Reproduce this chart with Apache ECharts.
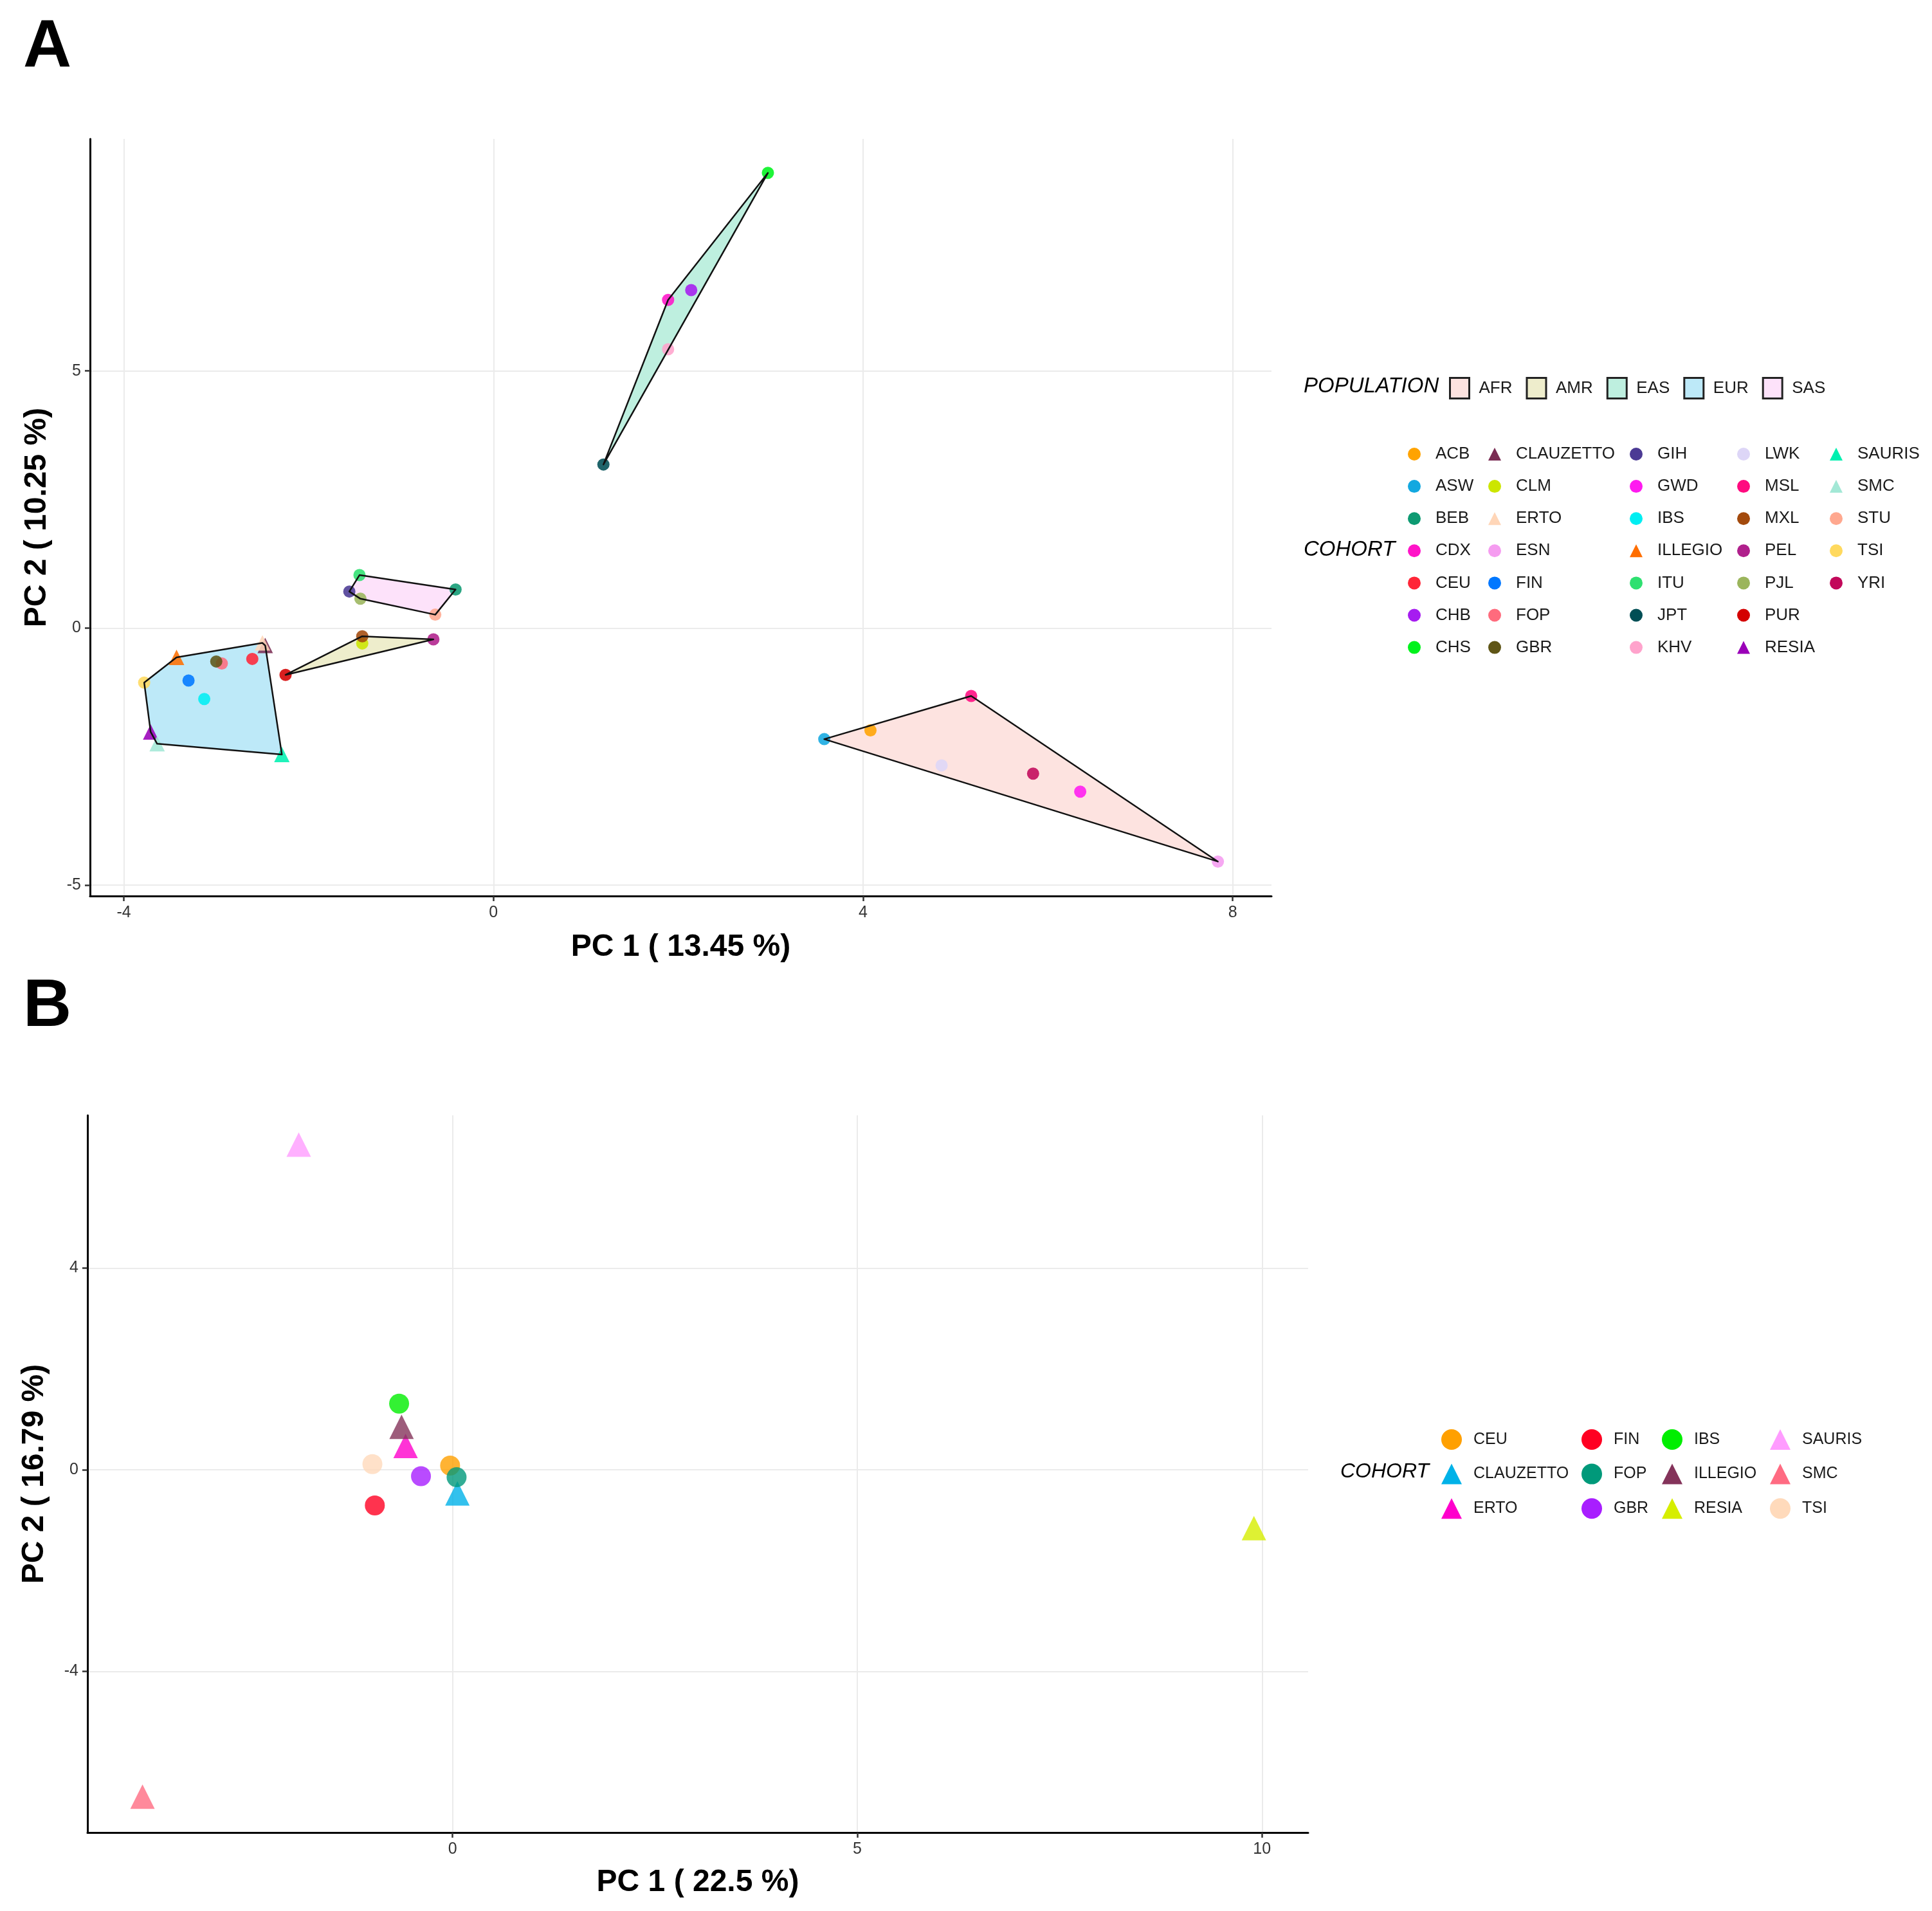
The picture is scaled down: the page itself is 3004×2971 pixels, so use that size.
<!DOCTYPE html>
<html>
<head>
<meta charset="utf-8">
<script src="https://cdn.jsdelivr.net/npm/echarts@6/dist/echarts.min.js"></script>
<style>
  html, body { margin: 0; padding: 0; background: #fff; }
  #show { width: 3004px; height: 2971px; }
</style>
</head>
<body>
<div id="show"></div>
<script>
var myChart = echarts.init(document.getElementById("show"));

// ---- panel A : 1000 Genomes + isolates ----
var cohortsA = ['ACB', 'ASW', 'BEB', 'CDX', 'CEU', 'CHB', 'CHS', 'CLAUZETTO', 'CLM', 'ERTO', 'ESN',
    'FIN', 'FOP', 'GBR', 'GIH', 'GWD', 'IBS', 'ILLEGIO', 'ITU', 'JPT', 'KHV', 'LWK', 'MSL', 'MXL',
    'PEL', 'PJL', 'PUR', 'RESIA', 'SAURIS', 'SMC', 'STU', 'TSI', 'YRI'];
var pc1A = [4.08, 3.58, -0.41, 1.89, -2.61, 2.14, 2.97, -2.47, -1.42, -2.50, 7.84,
    -3.30, -2.94, -3.00, -1.56, 6.35, -3.13, -3.43, -1.45, 1.19, 1.89, 4.85, 5.17, -1.42,
    -0.65, -1.44, -2.25, -3.71, -2.29, -3.64, -0.63, -3.78, 5.84];
var pc2A = [-1.99, -2.16, 0.75, 6.38, -0.60, 6.57, 8.85, -0.34, -0.30, -0.29, -4.54,
    -1.02, -0.69, -0.65, 0.71, -3.18, -1.38, -0.57, 1.03, 3.18, 5.42, -2.67, -1.32, -0.16,
    -0.22, 0.57, -0.91, -2.02, -2.46, -2.25, 0.26, -1.06, -2.83];
var popA = ['AFR', 'AFR', 'SAS', 'EAS', 'EUR', 'EAS', 'EAS', 'EUR', 'AMR', 'EUR', 'AFR',
    'EUR', 'EUR', 'EUR', 'SAS', 'AFR', 'EUR', 'EUR', 'SAS', 'EAS', 'EAS', 'AFR', 'AFR', 'AMR',
    'AMR', 'SAS', 'AMR', 'EUR', 'EUR', 'EUR', 'SAS', 'EUR', 'AFR'];
var populations = ['AFR', 'AMR', 'EAS', 'EUR', 'SAS'];
var xTicksA = [-4, 0, 4, 8];
var yTicksA = [-5, 0, 5];

// ---- panel B : isolates + EUR ----
var cohortsB = ['CEU', 'CLAUZETTO', 'ERTO', 'FIN', 'FOP', 'GBR', 'IBS', 'ILLEGIO', 'RESIA', 'SAURIS', 'SMC', 'TSI'];
var pc1B = [-0.03, 0.06, -0.58, -0.96, 0.05, -0.39, -0.66, -0.63, 9.90, -1.90, -3.83, -0.99];
var pc2B = [0.08, -0.47, 0.47, -0.71, -0.15, -0.13, 1.31, 0.85, -1.16, 6.45, -6.49, 0.11];
var xTicksB = [0, 5, 10];
var yTicksB = [-4, 0, 4];

var isolates = ['CLAUZETTO', 'ERTO', 'ILLEGIO', 'RESIA', 'SAURIS', 'SMC'];

// colours
var colA = {
    ACB: '#FFA300', ASW: '#13A8E0', BEB: '#0E9A72', CDX: '#FF14C8', CEU: '#FF2638', CHB: '#A61CF0',
    CHS: '#00F21C', CLAUZETTO: '#7B2D54', CLM: '#CCE600', ERTO: '#FFD6B8', ESN: '#F59CF0',
    FIN: '#0077FF', FOP: '#FF6B7D', GBR: '#5F5516', GIH: '#4B3A94', GWD: '#FF1AF0', IBS: '#00EEF2',
    ILLEGIO: '#FF6E00', ITU: '#2EE070', JPT: '#004E55', KHV: '#FFA3CC', LWK: '#DDD6F7',
    MSL: '#FF0A7F', MXL: '#A34A0D', PEL: '#B0208C', PJL: '#9BB55C', PUR: '#D40000',
    RESIA: '#9A00B8', SAURIS: '#00F0B0', SMC: '#A3E8D6', STU: '#FFA88F', TSI: '#FFD95E', YRI: '#C2085A'
};
var colPop = { AFR: '#FDE3E0', AMR: '#EEEDCC', EAS: '#BEEFDF', EUR: '#BDE9F8', SAS: '#FDE2FA' };
var colB = {
    CEU: '#FFA000', CLAUZETTO: '#00B2E8', ERTO: '#FF00CC', FIN: '#FF0022', FOP: '#00997A',
    GBR: '#A81EFF', IBS: '#00EE00', ILLEGIO: '#84335A', RESIA: '#D6EE00', SAURIS: '#FF9CFF',
    SMC: '#FF6B82', TSI: '#FFDABB'
};

var FONT = 'Liberation Sans';

function shapeOf(name) { return isolates.indexOf(name) >= 0 ? 'triangle' : 'circle'; }

// convex hull (monotone chain)
function hull(pts) {
    var p = pts.slice().sort(function (a, b) { return a[0] - b[0] || a[1] - b[1]; });
    function cross(o, a, b) { return (a[0] - o[0]) * (b[1] - o[1]) - (a[1] - o[1]) * (b[0] - o[0]); }
    var lower = [], upper = [], i;
    for (i = 0; i < p.length; i++) {
        while (lower.length >= 2 && cross(lower[lower.length - 2], lower[lower.length - 1], p[i]) <= 0) lower.pop();
        lower.push(p[i]);
    }
    for (i = p.length - 1; i >= 0; i--) {
        while (upper.length >= 2 && cross(upper[upper.length - 2], upper[upper.length - 1], p[i]) <= 0) upper.pop();
        upper.push(p[i]);
    }
    upper.pop(); lower.pop();
    return lower.concat(upper);
}

function axisPair(gridIndex, xmin, xmax, ymin, ymax, xt, yt, xname, yname, xgap) {
    var common = {
        type: 'value',
        gridIndex: gridIndex,
        axisLine: { onZero: false, lineStyle: { color: '#000', width: 3 } },
        axisTick: { show: true, length: 8, lineStyle: { color: '#333', width: 2.5 } },
        axisLabel: { color: '#333', fontSize: 25, fontFamily: FONT, margin: 14 },
        splitLine: { show: true, lineStyle: { color: '#EBEBEB', width: 2 } },
        nameLocation: 'middle',
        nameTextStyle: { color: '#000', fontSize: 48, fontWeight: 'bold', fontFamily: FONT }
    };
    var x = echarts.util.merge({
        min: xmin, max: xmax, name: xname, nameGap: xgap,
        axisTick: { customValues: xt }, axisLabel: { customValues: xt }
    }, common, false);
    var y = echarts.util.merge({
        min: ymin, max: ymax, name: yname, nameGap: 58, nameRotate: 90,
        axisTick: { customValues: yt }, axisLabel: { customValues: yt }
    }, common, false);
    return [x, y];
}

var axA = axisPair(0, -4.366, 8.42, -5.21, 9.51, xTicksA, yTicksA, 'PC 1 ( 13.45 %)', 'PC 2 ( 10.25 %)', 56);
var axB = axisPair(1, -4.51, 10.57, -7.20, 7.03, xTicksB, yTicksB, 'PC 1 ( 22.5 %)', 'PC 2 ( 16.79 %)', 54);

var series = [];

// population hull fills (panel A)
var hulls = {};
populations.forEach(function (pop) {
    var pts = [];
    cohortsA.forEach(function (c, i) { if (popA[i] === pop) pts.push([pc1A[i], pc2A[i]]); });
    hulls[pop] = hull(pts);
    series.push({
        type: 'custom', name: pop, xAxisIndex: 0, yAxisIndex: 0, z: 1,
        data: hulls[pop], encode: { x: 0, y: 1 }, silent: true,
        renderItem: function (params, api) {
            if (params.dataIndex !== 0) return null;
            return {
                type: 'polygon',
                shape: { points: hulls[pop].map(function (q) { return api.coord(q); }) },
                style: { fill: colPop[pop], stroke: null }
            };
        }
    });
});

// cohort points (panel A)
cohortsA.forEach(function (c, i) {
    var tri = shapeOf(c) === 'triangle';
    series.push({
        type: 'scatter', name: c, xAxisIndex: 0, yAxisIndex: 0, z: 2,
        symbol: shapeOf(c), symbolSize: tri ? 24 : 19,
        itemStyle: { color: colA[c], opacity: 0.88 },
        data: [[pc1A[i], pc2A[i]]]
    });
});

// hull outlines on top
populations.forEach(function (pop) {
    series.push({
        type: 'custom', name: pop + ' outline', xAxisIndex: 0, yAxisIndex: 0, z: 3,
        data: hulls[pop], encode: { x: 0, y: 1 }, silent: true,
        renderItem: function (params, api) {
            if (params.dataIndex !== 0) return null;
            return {
                type: 'polygon',
                shape: { points: hulls[pop].map(function (q) { return api.coord(q); }) },
                style: { fill: null, stroke: '#111', lineWidth: 2.5, lineJoin: 'round' }
            };
        }
    });
});

// cohort points (panel B)
cohortsB.forEach(function (c, i) {
    var tri = shapeOf(c) === 'triangle';
    series.push({
        type: 'scatter', name: c, xAxisIndex: 1, yAxisIndex: 1, z: 2,
        symbol: shapeOf(c), symbolSize: tri ? 38 : 31,
        itemStyle: { color: colB[c] },
        data: [[pc1B[i], pc2B[i]]]
    });
});

// legends
function cohortLegend(names, cols, left, top, size, gap, pad, fs) {
    return {
        orient: 'vertical', left: left, top: top, padding: 0,
        itemWidth: size, itemHeight: size, itemGap: gap, selectedMode: false,
        textStyle: { fontSize: fs, fontFamily: FONT, color: '#1a1a1a', lineHeight: size, padding: [0, 0, 0, pad] },
        data: names.map(function (n) {
            return { name: n, icon: shapeOf(n), itemStyle: { color: cols[n], opacity: 1 } };
        })
    };
}

var legendColsA = [
    ['ACB', 'ASW', 'BEB', 'CDX', 'CEU', 'CHB', 'CHS'],
    ['CLAUZETTO', 'CLM', 'ERTO', 'ESN', 'FIN', 'FOP', 'GBR'],
    ['GIH', 'GWD', 'IBS', 'ILLEGIO', 'ITU', 'JPT', 'KHV'],
    ['LWK', 'MSL', 'MXL', 'PEL', 'PJL', 'PUR', 'RESIA'],
    ['SAURIS', 'SMC', 'STU', 'TSI', 'YRI']
];
var legendLeftA = [2189, 2314, 2534, 2701, 2845];
var legendColsB = [
    ['CEU', 'CLAUZETTO', 'ERTO'],
    ['FIN', 'FOP', 'GBR'],
    ['IBS', 'ILLEGIO', 'RESIA'],
    ['SAURIS', 'SMC', 'TSI']
];
var legendLeftB = [2241, 2459, 2584, 2752];

var legends = [];
legendColsA.forEach(function (names, k) {
    legends.push(cohortLegend(names, colA, legendLeftA[k], 693, 20, 24.1, 18, 26));
});
legendColsB.forEach(function (names, k) {
    legends.push(cohortLegend(names, colB, legendLeftB[k], 2222, 32, 21.6, 13, 25));
});
legends.push({
    orient: 'horizontal', left: 2253, top: 586, padding: 0,
    itemWidth: 30, itemHeight: 32, itemGap: 21, selectedMode: false,
    textStyle: { fontSize: 26, fontFamily: FONT, color: '#1a1a1a', padding: [0, 0, 0, 10] },
    data: populations.map(function (p) {
        return { name: p, icon: 'rect', itemStyle: { color: colPop[p], borderColor: '#222', borderWidth: 3 } };
    })
});

myChart.setOption(option = {
    animation: false,
    backgroundColor: '#fff',
    grid: [
        { left: 140, top: 216, width: 1837, height: 1177 },
        { left: 136, top: 1734, width: 1898, height: 1115 }
    ],
    xAxis: [axA[0], axB[0]],
    yAxis: [axA[1], axB[1]],
    legend: legends,
    graphic: [
        { type: 'text', left: 36, top: 22, style: { text: 'A', fontSize: 104, fontWeight: 'bold', fontFamily: FONT, fill: '#000' } },
        { type: 'text', left: 36, top: 1514, style: { text: 'B', fontSize: 104, fontWeight: 'bold', fontFamily: FONT, fill: '#000' } },
        { type: 'text', left: 2027, top: 584, style: { text: 'POPULATION', fontSize: 33, fontStyle: 'italic', fontFamily: FONT, fill: '#000' } },
        { type: 'text', left: 2027, top: 838, style: { text: 'COHORT', fontSize: 33, fontStyle: 'italic', fontFamily: FONT, fill: '#000' } },
        { type: 'text', left: 2084, top: 2272, style: { text: 'COHORT', fontSize: 32, fontStyle: 'italic', fontFamily: FONT, fill: '#000' } }
    ],
    series: series
});
</script>
</body>
</html>
